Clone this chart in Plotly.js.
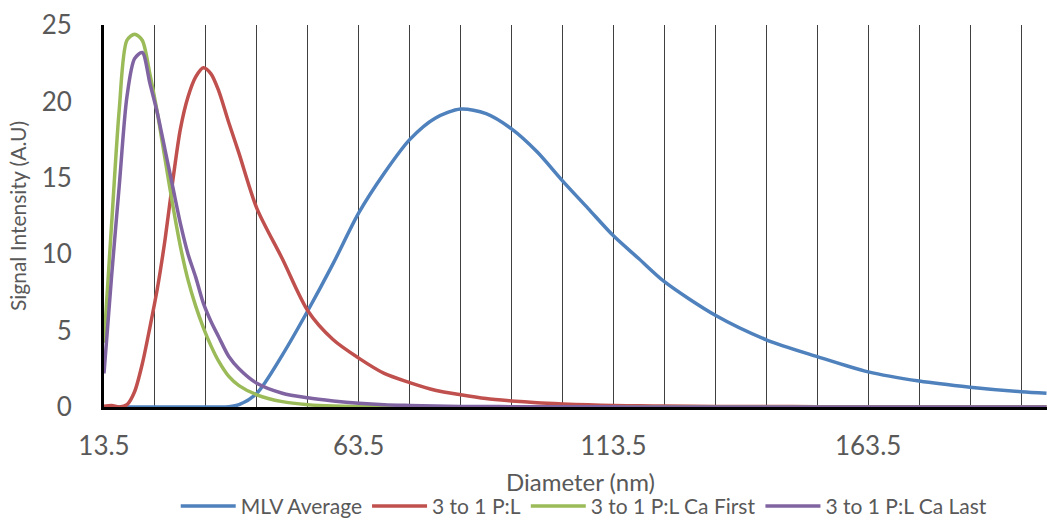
<!DOCTYPE html>
<html>
<head>
<meta charset="utf-8">
<script src="https://cdn.plot.ly/plotly-3.0.1.min.js"></script>
<style>html,body{margin:0;padding:0;background:#fff;}#chart{width:1047px;height:522px;}</style>
</head>
<body>
<div id="chart"></div>
<script>
const diameter = [13.5, 15, 16.5, 18, 19.5, 21, 22.5, 24, 25.5, 27, 28.5, 30, 31.5, 33, 34.5, 36, 38, 40, 43.5, 48.5, 53.5, 58.5, 63.5, 68.5, 73.5, 78.5, 83.5, 88.5, 93.5, 98.5, 103.5, 108.5, 113.5, 118.5, 123.5, 133.5, 143.5, 153.5, 163.5, 173.5, 183.5, 193.5, 198.5];

const mlvAverage = [0, 0, 0, 0, 0, 0, 0, 0, 0, 0, 0, 0, 0, 0, 0, 0, 0.02, 0.15, 0.9, 3.4, 6.3, 9.4, 12.7, 15.3, 17.5, 18.9, 19.5, 19.2, 18.2, 16.7, 14.8, 13.0, 11.2, 9.7, 8.2, 6.0, 4.4, 3.3, 2.3, 1.7, 1.3, 1.0, 0.9];

const pl31 = [0.05, 0.1, 0.0, 0.15, 1.0, 2.8, 5.2, 7.8, 11.0, 14.8, 18.2, 20.3, 21.6, 22.2, 21.8, 20.7, 18.6, 16.6, 13.0, 9.7, 6.3, 4.4, 3.2, 2.2, 1.6, 1.1, 0.8, 0.55, 0.4, 0.28, 0.2, 0.14, 0.1, 0.08, 0.06, 0.04, 0.03, 0.02, 0.02, 0.02, 0.01, 0.01, 0.01];

const caFirst = [4.2, 12.0, 19.5, 24.0, 24.4, 24.0, 21.8, 19.2, 16.2, 13.2, 10.5, 8.3, 6.6, 5.2, 4.0, 3.0, 2.0, 1.4, 0.8, 0.35, 0.15, 0.06, 0.03, 0.02, 0.01, 0.01, 0, 0, 0, 0, 0, 0, 0, 0, 0, 0, 0, 0, 0, 0, 0, 0, 0];

const caLast = [2.2, 8.6, 14.5, 20.3, 22.8, 23.2, 21.2, 19.2, 16.8, 14.4, 12.0, 10.0, 8.5, 6.8, 5.6, 4.6, 3.3, 2.5, 1.55, 0.9, 0.6, 0.4, 0.25, 0.15, 0.1, 0.06, 0.04, 0.03, 0.02, 0.02, 0.01, 0.01, 0.01, 0, 0, 0, 0, 0, 0, 0, 0, 0, 0];

const seriesNames = ["MLV Average", "3 to 1 P:L", "3 to 1 P:L Ca First", "3 to 1 P:L Ca Last"];
const seriesColors = ["#4F81BD", "#C0504D", "#9BBB59", "#8064A2"];
const seriesValues = [mlvAverage, pl31, caFirst, caLast];

const xTitle = "Diameter (nm)";
const yTitle = "Signal Intensity (A.U)";
const xTickStart = 13.5, xTickStep = 50, xGridStep = 10;
const yTickVals = [0, 5, 10, 15, 20, 25];

const FONT = "Lato, 'Open Sans', sans-serif";

const traces = seriesValues.map((vals, i) => ({
  x: diameter,
  y: vals,
  type: "scatter",
  mode: "lines",
  name: seriesNames[i],
  line: {color: seriesColors[i], width: 3.5, shape: "spline", smoothing: 0.8},
  hoverinfo: "x+y+name"
}));

const layout = {
  width: 1047,
  height: 522,
  margin: {l: 104, r: 0, t: 25, b: 115},
  paper_bgcolor: "#ffffff",
  plot_bgcolor: "#ffffff",
  font: {family: FONT, color: "#595959", size: 24},
  showlegend: true,
  legend: {
    orientation: "h",
    xref: "container", yref: "container",
    x: 0.558, xanchor: "center",
    y: 0.03, yanchor: "middle",
    font: {family: FONT, size: 21, color: "#595959"},
    traceorder: "normal",
    itemwidth: 55
  },
  annotations: [{
    text: xTitle,
    xref: "paper", yref: "paper",
    x: 0.505, y: -0.195,
    xanchor: "center", yanchor: "middle",
    showarrow: false,
    font: {family: FONT, size: 24, color: "#595959"}
  }],
  xaxis: {
    range: [13.5, 198.6],
    tickmode: "linear",
    tick0: xTickStart,
    dtick: xTickStep,
    showgrid: true,
    gridcolor: "#404040",
    gridwidth: 1,
    minor: {tickmode: "linear", tick0: xTickStart, dtick: xGridStep, showgrid: true, gridcolor: "#404040", gridwidth: 1},
    showline: true,
    linecolor: "#000000",
    linewidth: 2.5,
    zeroline: false,
    ticks: "",
    ticklabelstandoff: 14,
    tickfont: {family: FONT, size: 26, color: "#595959"}
  },
  yaxis: {
    range: [0, 25],
    tickmode: "array",
    tickvals: yTickVals,
    showgrid: false,
    showline: true,
    linecolor: "#000000",
    linewidth: 3,
    zeroline: false,
    ticks: "",
    ticklabelstandoff: 24,
    tickfont: {family: FONT, size: 26, color: "#595959"},
    title: {text: yTitle, font: {family: FONT, size: 21, color: "#595959"}, standoff: 10}
  }
};

Plotly.newPlot("chart", traces, layout, {displayModeBar: false, staticPlot: true});
</script>
</body>
</html>
